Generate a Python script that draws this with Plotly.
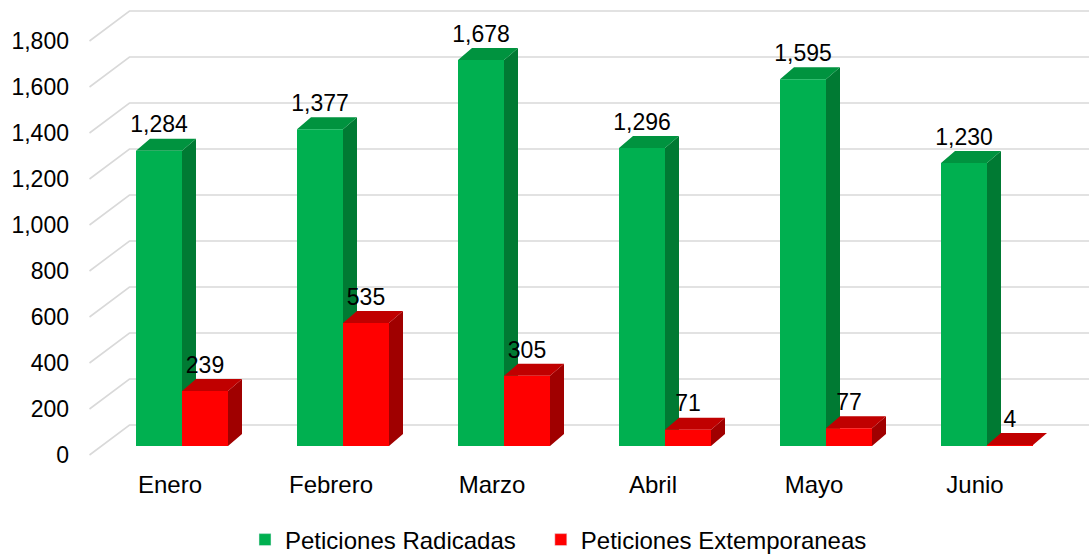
import plotly.graph_objects as go

# ---- data ----
months = ["Enero", "Febrero", "Marzo", "Abril", "Mayo", "Junio"]
radicadas = [1284, 1377, 1678, 1296, 1595, 1230]
extemporaneas = [239, 535, 305, 71, 77, 4]
y_ticks = [0, 200, 400, 600, 800, 1000, 1200, 1400, 1600, 1800]

series = [
    dict(name="Peticiones Radicadas", values=radicadas,
         front="#00B050", top="#00933F", side="#007A33", pad=3),
    dict(name="Peticiones Extemporaneas", values=extemporaneas,
         front="#FF0000", top="#C00000", side="#A00000", pad=0),
]

# ---- pseudo-3D geometry (pixel-like x units, value y units) ----
W, H = 1089, 555
K = 0.23                 # px per value unit
ZERO_PX = 455            # pixel row of value 0 on the front plane
MB = 90                  # bottom margin
ML = 80                  # left margin
FLOOR_X0 = 89.5
SLOT = 161
GRID_DX = 40
GRID_DY = 30 / K
BAR_W = 46
BAR_D0 = 0.3
BAR_DX = 14
BAR_DY = 12 / K
BASE = BAR_D0 * GRID_DY  # bar bottom (value units) at its front plane
FONT = "Liberation Sans, Arial"

fig = go.Figure()

# gridlines (front diagonal + back wall)
gx, gy = [], []
for t in y_ticks:
    gx += [FLOOR_X0, FLOOR_X0 + GRID_DX, W + 5, None]
    gy += [t, t + GRID_DY, t + GRID_DY, None]
fig.add_trace(go.Scatter(x=gx, y=gy, mode="lines",
                         line=dict(color="#D9D9D9", width=1.6),
                         hoverinfo="skip", showlegend=False))

lab_x, lab_y, lab_t = [], [], []
for s_idx, s in enumerate(series):
    fx, fy, tx, ty, sx, sy = [], [], [], [], [], []
    for i, v in enumerate(s["values"]):
        center = FLOOR_X0 + SLOT * (i + 0.5) + GRID_DX * BAR_D0
        xl = center - BAR_W + s_idx * BAR_W
        xr = xl + BAR_W
        y0 = BASE
        y1 = BASE + v
        fx += [xl, xr, xr, xl, xl, None]
        fy += [y0, y0, y1, y1, y0, None]
        tx += [xl, xr, xr + BAR_DX, xl + BAR_DX, xl, None]
        ty += [y1, y1, y1 + BAR_DY, y1 + BAR_DY, y1, None]
        sx += [xr, xr + BAR_DX, xr + BAR_DX, xr, xr, None]
        sy += [y0, y0 + BAR_DY, y1 + BAR_DY, y1, y0, None]
        lab_x.append((xl + xr) / 2)
        lab_y.append(y1 + 24 / K)
        lab_t.append(f"{v:,}")
    for xs, ys, col in ((sx, sy, s["side"]), (tx, ty, s["top"]), (fx, fy, s["front"])):
        fig.add_trace(go.Scatter(x=xs, y=ys, mode="lines", fill="toself",
                                 fillcolor=col, line=dict(width=0, color=col),
                                 hoverinfo="skip", showlegend=False))

# data labels
fig.add_trace(go.Scatter(x=lab_x, y=lab_y, mode="text", text=lab_t,
                         textposition="middle center",
                         textfont=dict(family=FONT, size=23, color="#000000"),
                         hoverinfo="skip", showlegend=False))

# legend entries
for s in series:
    fig.add_trace(go.Bar(x=[None], y=[None], name=s["name"] + "\u00a0" * s["pad"],
                         marker=dict(color=s["front"]), showlegend=True))

fig.update_layout(
    width=W, height=H, autosize=False,
    margin=dict(l=ML, r=0, t=0, b=MB),
    paper_bgcolor="white", plot_bgcolor="white",
    font=dict(family=FONT, size=23, color="#000000"),
    xaxis=dict(range=[ML, W], showgrid=False, zeroline=False, showline=False,
               tickvals=[FLOOR_X0 + SLOT * (i + 0.5) for i in range(len(months))],
               ticktext=months, ticks="", ticklabelstandoff=3,
               tickfont=dict(size=24), fixedrange=True),
    yaxis=dict(range=[(MB - (H - ZERO_PX)) / K, ZERO_PX / K], showgrid=False,
               zeroline=False, showline=False, tickvals=y_ticks, tickformat=",",
               ticks="", ticklabelstandoff=10, tickfont=dict(size=23),
               fixedrange=True),
    legend=dict(orientation="h", x=245 / W, xanchor="left", xref="container",
                y=0.027, yanchor="middle", yref="container",
                font=dict(size=24), itemwidth=30, tracegroupgap=0),
    showlegend=True,
)

fig.write_html("out.html")
